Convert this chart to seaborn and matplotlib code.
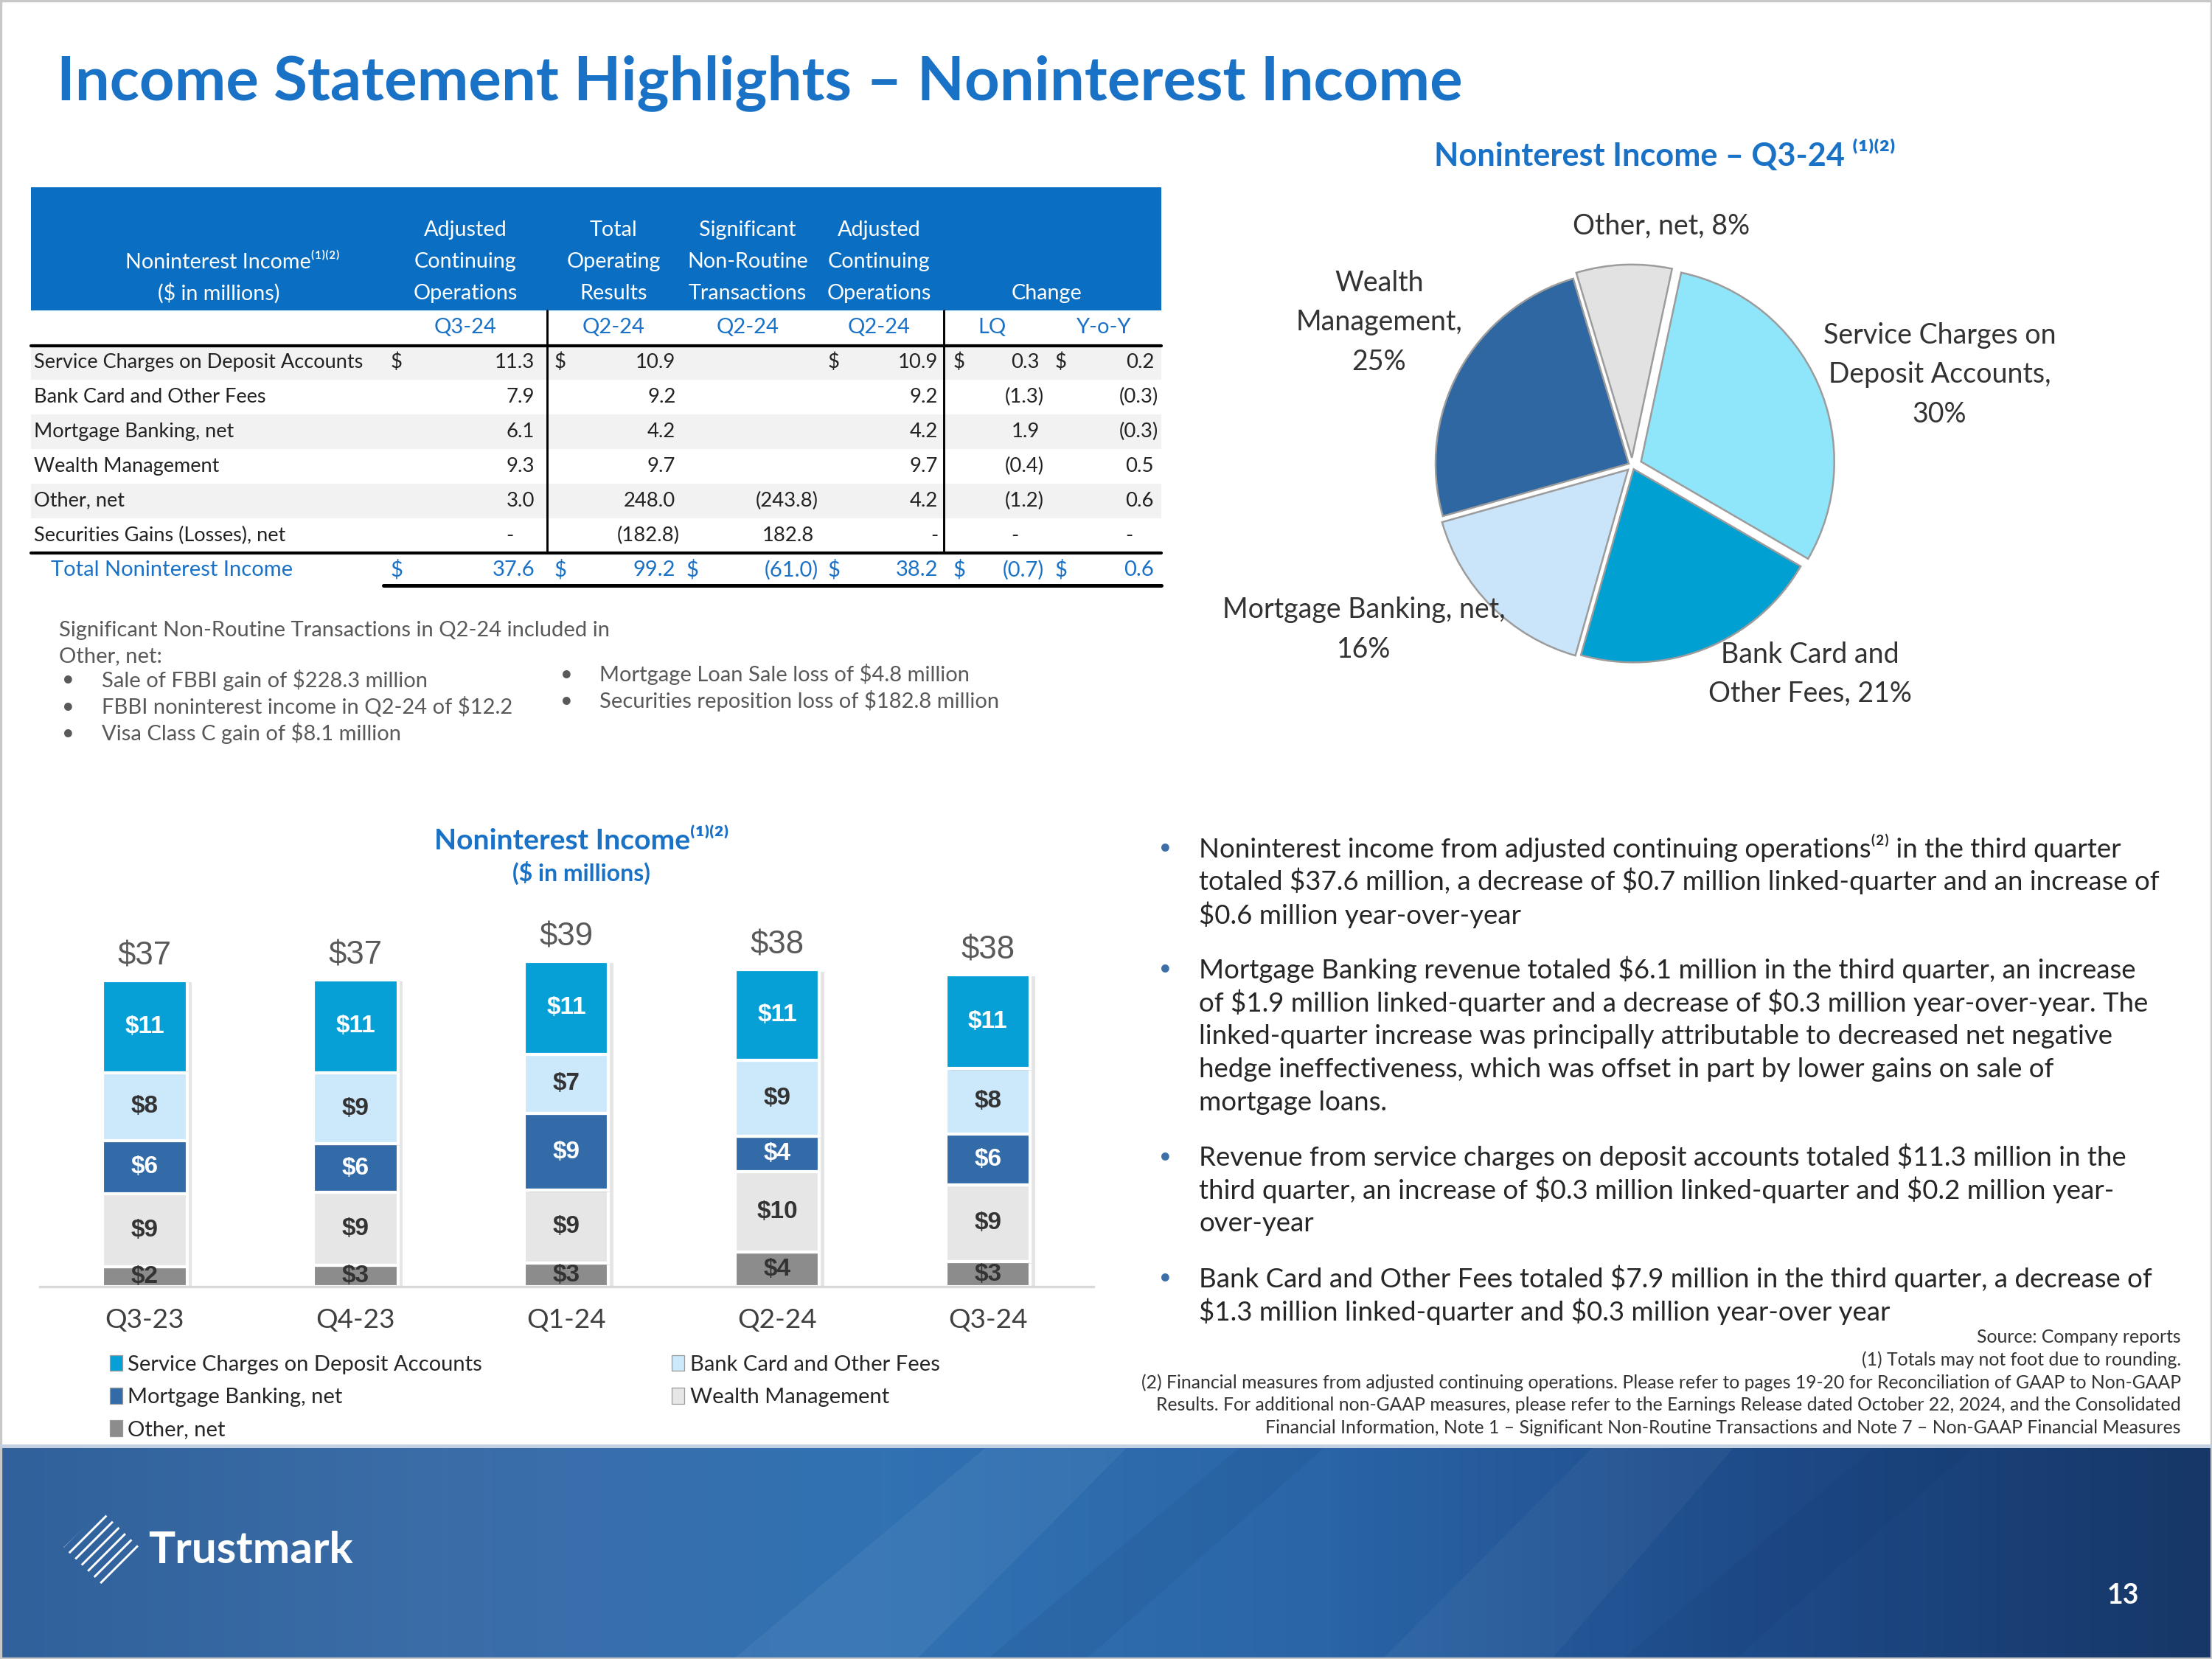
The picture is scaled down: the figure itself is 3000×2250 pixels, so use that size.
import numpy as np
import pandas as pd
import seaborn as sns
import matplotlib.pyplot as plt
import matplotlib.patheffects as pe
from matplotlib.patches import Rectangle, Polygon, Patch
from matplotlib.colors import LinearSegmentedColormap

# Bar chart data ($ in millions)
quarters = ["Q3-23", "Q4-23", "Q1-24", "Q2-24", "Q3-24"]
service_charges = [11.1, 11.2, 11.2, 10.9, 11.3]
bank_card = [8.2, 8.6, 7.1, 9.2, 7.9]
mortgage = [6.4, 5.8, 9.3, 4.2, 6.1]
wealth = [8.8, 8.8, 8.8, 9.7, 9.3]
other = [2.4, 2.6, 2.8, 4.2, 3.0]

series_names = ["Service Charges on Deposit Accounts", "Bank Card and Other Fees",
                "Mortgage Banking, net", "Wealth Management", "Other, net"]

# Pie data (Q3-24)
pie_values = [11.3, 7.9, 6.1, 9.3, 3.0]
pie_names = ["Service Charges on\nDeposit Accounts,\n", "Bank Card and\nOther Fees, ",
             "Mortgage Banking, net,\n", "Wealth\nManagement,\n", "Other, net, "]

# Table data
row_names = ["Service Charges on Deposit Accounts", "Bank Card and Other Fees",
             "Mortgage Banking, net", "Wealth Management", "Other, net",
             "Securities Gains (Losses), net"]
adj_q3_24 = [11.3, 7.9, 6.1, 9.3, 3.0, 0.0]
total_q2_24 = [10.9, 9.2, 4.2, 9.7, 248.0, -182.8]
nonroutine_q2_24 = [np.nan, np.nan, np.nan, np.nan, -243.8, 182.8]
adj_q2_24 = [10.9, 9.2, 4.2, 9.7, 4.2, 0.0]
change_lq = [0.3, -1.3, 1.9, -0.4, -1.2, 0.0]
change_yoy = [0.2, -0.3, -0.3, 0.5, 0.6, 0.0]
table_totals = [37.6, 99.2, -61.0, 38.2, -0.7, 0.6]
table_cols = [adj_q3_24, total_q2_24, nonroutine_q2_24, adj_q2_24, change_lq, change_yoy]

sns.set_theme(style="white")
plt.rcParams["font.family"] = ["Lato", "DejaVu Sans"]
plt.rcParams["text.parse_math"] = False
plt.rcParams["hatch.linewidth"] = 0.7
NARROW = ["Liberation Sans Narrow", "Liberation Sans", "DejaVu Sans"]

BLUE = "#1a72c7"
HEAD = "#0a6fc2"
DARK = "#222222"
W, H = 1568, 1176   # layout grid in px of the slide

fig = plt.figure(figsize=(10, 7.5), dpi=300)
ax0 = fig.add_axes([0, 0, 1, 1])
ax0.set_xlim(0, W)
ax0.set_ylim(H, 0)
ax0.axis("off")

# title
ax0.text(40, 59, "Income Statement Highlights \u2013 Noninterest Income", fontsize=20,
         fontweight="bold", color=BLUE, va="center")

# ---- table ----
L, R = 22, 823
ax0.add_patch(Rectangle((L, 133), R - L, 87, color=HEAD, lw=0))
for i in range(0, 6, 2):
    yc = 257 + i * 24.5
    ax0.add_patch(Rectangle((L, yc - 12.2), R - L, 24.4, color="#f2f2f2", lw=0))

hdr = dict(color="white", fontsize=6.9, ha="center", va="center")
ax0.text(165, 186, "Noninterest Income\u207d\u00b9\u207e\u207d\u00b2\u207e", **hdr)
ax0.text(155, 208, "($ in millions)", **hdr)
col_heads = [("Adjusted", "Continuing", "Operations"), ("Total", "Operating", "Results"),
             ("Significant", "Non-Routine", "Transactions"), ("Adjusted", "Continuing", "Operations")]
for x, lines in zip([330, 435, 530, 623], col_heads):
    for j, s in enumerate(lines):
        ax0.text(x, 163 + j * 22.5, s, **hdr)
ax0.text(742, 208, "Change", **hdr)
for x, s in zip([330, 435, 530, 623, 703, 782], ["Q3-24", "Q2-24", "Q2-24", "Q2-24", "LQ", "Y-o-Y"]):
    ax0.text(x, 232, s, color=BLUE, fontsize=7, ha="center", va="center")

col_right = [379, 479, 577, 665, 737, 818]
dollar_x = [281, 397, 491, 591, 680, 752]


def fmt(v):
    if np.isnan(v):
        return ""
    if v == 0:
        return "-"
    return f"({abs(v):.1f})" if v < 0 else f"{v:.1f}"


for i, name in enumerate(row_names):
    yc = 257 + i * 24.5
    ax0.text(24, yc, name, fontsize=6.5, color=DARK, va="center")
    for c, col in enumerate(table_cols):
        s = fmt(col[i])
        xr = col_right[c] - (15 if s == "-" and c != 3 else 0) + (3 if s.startswith("(") else 0)
        ax0.text(xr, yc, s, fontsize=6.6, color=DARK, ha="right", va="center")
        if i == 0 and s:
            ax0.text(dollar_x[c], yc, "$", fontsize=6.6, color=DARK, ha="center", va="center")

ax0.text(36, 404, "Total Noninterest Income", fontsize=7, color=BLUE, va="center")
for c, v in enumerate(table_totals):
    ax0.text(col_right[c] + (3 if v < 0 else 0), 404, fmt(v), fontsize=7, color=BLUE, ha="right", va="center")
    ax0.text(dollar_x[c], 404, "$", fontsize=7, color=BLUE, ha="center", va="center")

ax0.plot([L, R], [245, 245], color="black", lw=1.0)
ax0.plot([L, R], [392, 392], color="black", lw=1.0)
ax0.plot([272, R], [415, 415], color="black", lw=1.2)
for x in [388, 669]:
    ax0.plot([x, x], [220, 392], color="black", lw=0.7)

# notes under the table
note = dict(fontsize=7, color="#595959", va="center")
ax0.text(42, 447, "Significant Non-Routine Transactions in Q2-24 included in", **note)
ax0.text(42, 465, "Other, net:", **note)
for y, s in zip([482, 501, 520], ["Sale of FBBI gain of $228.3 million",
                                  "FBBI noninterest income in Q2-24 of $12.2",
                                  "Visa Class C gain of $8.1 million"]):
    ax0.text(44, y, "\u2022", **note)
    ax0.text(72, y, s, **note)
for y, s in zip([478, 497], ["Mortgage Loan Sale loss of $4.8 million",
                             "Securities reposition loss of $182.8 million"]):
    ax0.text(397, y, "\u2022", **note)
    ax0.text(425, y, s, **note)

# ---- pie ----
pie_colors = ["#8fe6fa", "#00a0d2", "#cae4fa", "#2f67a2", "#e2e2e2"]
ax0.text(1180, 110, "Noninterest Income \u2013 Q3-24 \u207d\u00b9\u207e\u207d\u00b2\u207e", fontsize=10.4,
         fontweight="bold", color=BLUE, ha="center", va="center")
ax_pie = fig.add_axes([857 / W, 1 - 630 / H, 600 / W, 600 / H])
ax_pie.pie(pie_values, colors=pie_colors, startangle=78, counterclock=False,
           explode=[0.05, 0.02, 0.03, 0.02, 0.04],
           wedgeprops=dict(edgecolor="#9c9c9c", linewidth=0.6))
ax_pie.set_xlim(-2.19, 2.19)
ax_pie.set_ylim(-2.19, 2.19)
pie_label_pos = [(1.59, 0.47), (0.92, -1.08), (-1.39, -0.85), (-1.31, 0.74), (0.15, 1.24)]
total_pie = sum(pie_values)
for (lx, ly), name, v in zip(pie_label_pos, pie_names, pie_values):
    ax_pie.text(lx, ly, f"{name}{v / total_pie * 100:.0f}%", fontsize=9, color="#333333",
                ha="center", va="center", linespacing=1.6)

# ---- stacked bars ----
bar_colors = ["#06a0d6", "#cce8fb", "#336ba8", "#e6e6e6", "#8c8c8c"]
label_colors = ["white", "#333333", "white", "#333333", "#333333"]
values = [service_charges, bank_card, mortgage, wealth, other]
df = pd.DataFrame({"quarter": quarters, **dict(zip(series_names, values))})

ax0.text(412, 596, "Noninterest Income\u207d\u00b9\u207e\u207d\u00b2\u207e", fontsize=9.4, fontweight="bold",
         color=BLUE, ha="center", va="center")
ax0.text(412, 619, "($ in millions)", fontsize=7.7, fontweight="bold", color=BLUE, ha="center", va="center")

ax = fig.add_axes([28 / W, 1 - 912 / H, 747 / W, 264.6 / H])
ax.set_facecolor("none")
bottom = np.zeros(len(quarters))
for k in [4, 3, 2, 1, 0]:  # from the bottom of the stack up
    name = series_names[k]
    sns.barplot(data=df, x="quarter", y=name, order=quarters, color=bar_colors[k], saturation=1,
                width=0.4, errorbar=None, bottom=bottom, ax=ax)
    cont = ax.containers[-1]
    for p in cont.patches:
        p.set_path_effects([pe.SimplePatchShadow(offset=(1.6, -0.6), shadow_rgbFace="#8a8a8a", alpha=0.22),
                            pe.Normal()])
    ax.bar_label(cont, labels=[f"${v:.0f}" for v in df[name]], label_type="center",
                 color=label_colors[k], fontsize=8, fontweight="bold", family=NARROW)
    bottom = bottom + df[name].to_numpy()

ax.bar_label(ax.containers[-1], labels=[f"${t:.0f}" for t in bottom], padding=3,
             color="#595959", fontsize=10.5, family=NARROW)
ax.set_xlim(-0.5, 4.5)
ax.set_ylim(0, 45)
ax.set_xlabel("")
ax.set_ylabel("")
ax.set_yticks([])
ax.set_xticks(np.arange(-0.5, 5, 1), minor=True)
ax.tick_params(axis="x", which="major", length=0, pad=7, labelsize=8.9, labelcolor="#404040")
ax.tick_params(axis="x", which="minor", length=5, width=0.8, color="#d9d9d9")
sns.despine(ax=ax, left=True)
ax.spines["bottom"].set_color("#d9d9d9")
ax.spines["bottom"].set_linewidth(0.8)

legend_order = [0, 2, 4, 1, 3]
handles = [Patch(facecolor=bar_colors[k], edgecolor="#9a9a9a", linewidth=0.3) for k in legend_order]
fig.legend(handles, [series_names[k] for k in legend_order], ncol=2, loc="upper left",
           bbox_to_anchor=(70 / W, 1 - 953 / H), frameon=False, fontsize=7.0,
           handlelength=0.6, handleheight=0.75, handletextpad=0.25, labelspacing=0.62,
           columnspacing=8.8, borderpad=0, labelcolor="#262626")

# ---- commentary bullets ----
paragraphs = [
    (601, ["Noninterest income from adjusted continuing operations\u207d\u00b2\u207e in the third quarter",
           "totaled $37.6 million, a decrease of $0.7 million linked-quarter and an increase of",
           "$0.6 million year-over-year"]),
    (687, ["Mortgage Banking revenue totaled $6.1 million in the third quarter, an increase",
           "of $1.9 million linked-quarter and a decrease of $0.3 million year-over-year. The",
           "linked-quarter increase was principally attributable to decreased net negative",
           "hedge ineffectiveness, which was offset in part by lower gains on sale of",
           "mortgage loans."]),
    (820, ["Revenue from service charges on deposit accounts totaled $11.3 million in the",
           "third quarter, an increase of $0.3 million linked-quarter and $0.2 million year-",
           "over-year"]),
    (906, ["Bank Card and Other Fees totaled $7.9 million in the third quarter, a decrease of",
           "$1.3 million linked-quarter and $0.3 million year-over year"]),
]
for y0, lines in paragraphs:
    ax0.text(826, y0, "\u2022", fontsize=7, color="#3c6fa8", ha="center", va="center")
    for j, s in enumerate(lines):
        ax0.text(850, y0 + j * 23.7, s, fontsize=8.8, color="#262626", va="center")

foot = ["Source: Company reports",
        "(1) Totals may not foot due to rounding.",
        "(2) Financial measures from adjusted continuing operations. Please refer to pages 19-20 for Reconciliation of GAAP to Non-GAAP",
        "Results. For additional non-GAAP measures, please refer to the Earnings Release dated October 22, 2024, and the Consolidated",
        "Financial Information, Note 1 \u2013 Significant Non-Routine Transactions and Note 7 \u2013 Non-GAAP Financial Measures"]
for j, s in enumerate(foot):
    ax0.text(1546, 948 + j * 16, s, fontsize=5.95, color="#333333", ha="right", va="center")

# ---- footer band ----
band = LinearSegmentedColormap.from_list(
    "band", ["#30619b", "#3b6da8", "#3172b3", "#2a65a7", "#1e4a88", "#163767"])
ax0.imshow(np.linspace(0, 1, 512).reshape(1, -1), cmap=band, extent=(0, W, H, 1025),
           aspect="auto", zorder=0)
for pts, col, a in [([(520, H), (650, H), (800, 1025), (700, 1025)], "white", 0.05),
                    ([(700, H), (770, H), (940, 1025), (880, 1025)], "#0b2a5a", 0.08),
                    ([(980, H), (1100, H), (1230, 1025), (1130, 1025)], "white", 0.04),
                    ([(1150, H), (1230, H), (1400, 1025), (1330, 1025)], "#0b2a5a", 0.07)]:
    ax0.add_patch(Polygon(pts, closed=True, facecolor=col, alpha=a, lw=0, zorder=1))
ax0.plot([0, W], [1025, 1025], color="#c3d0e2", lw=1.2, zorder=2)
ax0.add_patch(Polygon([(72, 1071), (99, 1097), (72, 1123), (45, 1097)], closed=True,
                      facecolor="none", edgecolor="white", hatch="//////", lw=0, zorder=3))
ax0.text(105, 1099, "Trustmark", fontsize=14.5, fontweight="bold", color="white", va="center", zorder=3)
ax0.text(1505, 1131, "13", fontsize=9, fontweight="bold", color="white", ha="center", va="center", zorder=3)
ax0.set_xlim(0, W)
ax0.set_ylim(H, 0)
ax0.add_patch(Rectangle((0.5, 0.5), W - 1, H - 1, facecolor="none", edgecolor="#c8c8c8", lw=0.8))

fig.savefig("out.png", dpi=300)
